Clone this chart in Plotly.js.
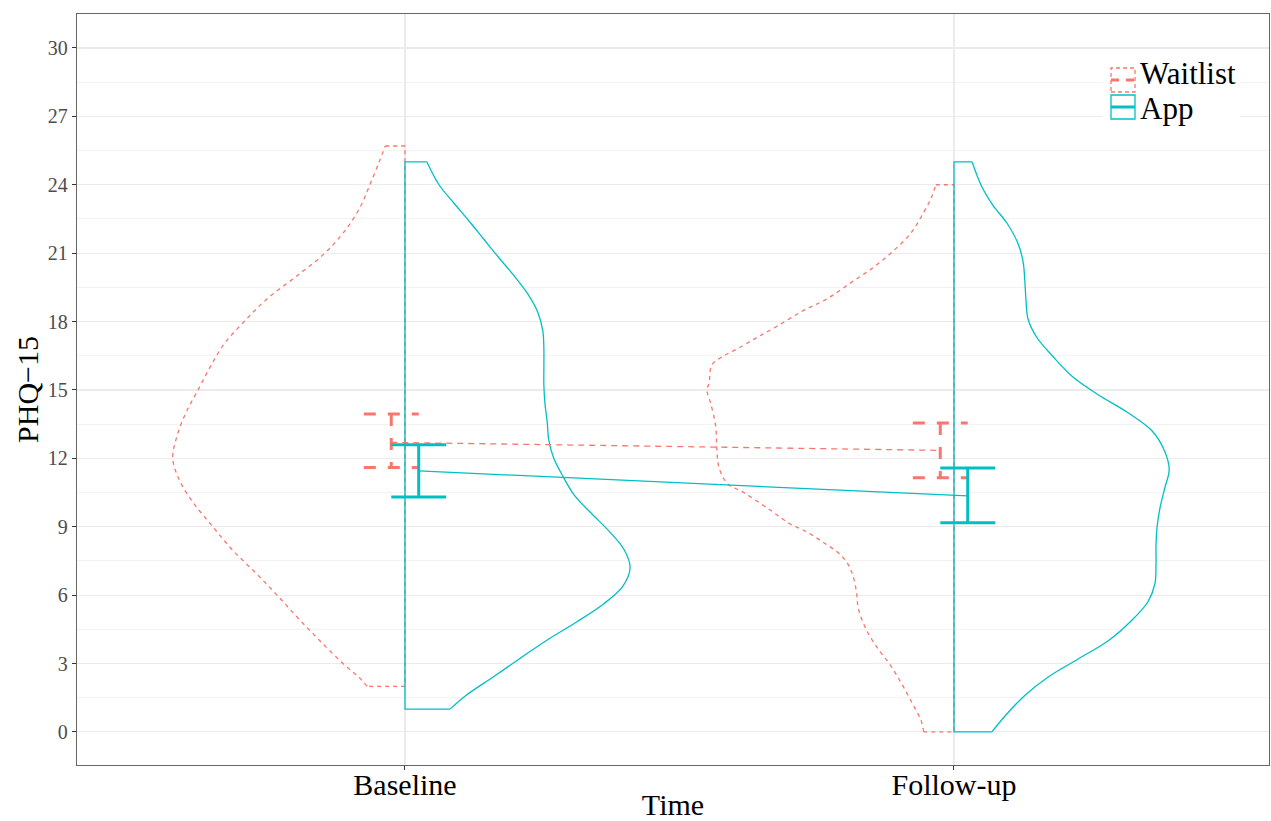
<!DOCTYPE html>
<html><head><meta charset="utf-8">
<script src="https://cdn.plot.ly/plotly-3.0.1.min.js"></script>
<style>html,body{margin:0;padding:0;background:#fff}#chart{width:1271px;height:821px}</style>
</head><body><div id="chart"></div>
<script>
// ---------- data ----------
const timepoints = ["Baseline", "Follow-up"];
const groups = ["Waitlist", "App"];
const yTickVals = [0, 3, 6, 9, 12, 15, 18, 21, 24, 27, 30];
const yTickText = ["0", "3", "6", "9", "12", "15", "18", "21", "24", "27", "30"];

// half-violin density outlines: PHQ-15 score and half-width (x-axis units)
const waitlistBaselineY = [2.0, 2.4, 3, 4, 5, 6, 7, 8, 9, 10, 11, 12, 13, 14, 15, 16, 17, 18, 19, 20, 21, 22, 23, 24, 25, 25.7];
const waitlistBaselineW = [0.069, 0.084, 0.113, 0.155, 0.195, 0.233, 0.273, 0.315, 0.350, 0.384, 0.410, 0.423, 0.415, 0.399, 0.377, 0.355, 0.330, 0.293, 0.251, 0.197, 0.146, 0.109, 0.082, 0.064, 0.047, 0.036];

const appBaselineY = [1.0, 1.6, 2.4, 3.2, 4.0, 4.8, 5.6, 6.4, 7.2, 8.0, 8.8, 9.6, 10.4, 11.2, 12.0, 12.8, 13.6, 14.4, 15.2, 16.0, 16.8, 17.6, 18.4, 19.2, 20.0, 20.8, 21.6, 22.4, 23.2, 24.0, 25.0];
const appBaselineW = [0.082, 0.111, 0.160, 0.208, 0.257, 0.311, 0.361, 0.397, 0.410, 0.399, 0.372, 0.339, 0.308, 0.288, 0.271, 0.262, 0.259, 0.255, 0.253, 0.253, 0.253, 0.251, 0.242, 0.224, 0.199, 0.171, 0.144, 0.117, 0.089, 0.062, 0.040];

const waitlistFollowY = [0, 0.5, 1.3, 2.1, 2.9, 3.7, 4.5, 5.4, 6.2, 7.0, 7.5, 7.9, 8.3, 8.8, 9.1, 9.7, 10.5, 10.9, 11.6, 12.4, 13.4, 14.4, 15.0, 15.3, 16.1, 16.5, 16.8, 17.3, 17.8, 18.5, 19.0, 19.7, 20.3, 21.0, 21.9, 22.8, 23.4, 24.0];
const waitlistFollowW = [0.055, 0.060, 0.077, 0.095, 0.115, 0.140, 0.160, 0.174, 0.178, 0.186, 0.197, 0.213, 0.237, 0.270, 0.297, 0.333, 0.383, 0.413, 0.428, 0.432, 0.434, 0.443, 0.450, 0.446, 0.441, 0.419, 0.395, 0.359, 0.322, 0.273, 0.231, 0.188, 0.151, 0.115, 0.078, 0.055, 0.042, 0.033];

const appFollowY = [0, 0.7, 1.6, 2.4, 3.2, 4.0, 4.9, 5.7, 6.5, 7.4, 8.2, 9.0, 9.8, 10.7, 11.5, 12.3, 13.2, 14.0, 14.8, 15.6, 16.5, 17.3, 18.1, 19.0, 19.8, 20.6, 21.4, 22.3, 23.1, 23.9, 25.0];
const appFollowW = [0.069, 0.093, 0.129, 0.171, 0.226, 0.281, 0.324, 0.353, 0.366, 0.368, 0.368, 0.370, 0.375, 0.384, 0.392, 0.384, 0.361, 0.317, 0.262, 0.215, 0.179, 0.151, 0.135, 0.131, 0.129, 0.126, 0.117, 0.097, 0.071, 0.051, 0.033];

// means with confidence intervals per timepoint
const waitlistMean = [12.7, 12.35];
const waitlistLow  = [11.6, 11.15];
const waitlistHigh = [13.95, 13.55];
const appMean = [11.45, 10.35];
const appLow  = [10.3, 9.17];
const appHigh = [12.6, 11.58];

// ---------- styles ----------
const RED = "#F8766D", TEAL = "#00BFC4";
const FONT = "Liberation Serif, 'Times New Roman', Times, serif";
const DODGE = 0.025, CAP = 0.05;

function halfViolin(cx, side, ys, ws) {
  const n = ys.length;
  const curve = {x: ws.map(w => cx + side * w), y: ys.slice()};
  const close = {
    x: [cx + side * ws[n - 1], cx, cx, cx + side * ws[0]],
    y: [ys[n - 1], ys[n - 1], ys[0], ys[0]]
  };
  return {curve, close};
}
function errBars(off, lo, hi) {
  const x = [], y = [];
  for (let i = 0; i < lo.length; i++) {
    const c = i + 1 + off;
    x.push(c - CAP, c + CAP, null, c, c, null, c - CAP, c + CAP, null);
    y.push(hi[i], hi[i], null, hi[i], lo[i], null, lo[i], lo[i], null);
  }
  return {x, y};
}

const traces = [];
const common = {type: "scatter", mode: "lines", showlegend: false, hoverinfo: "skip"};
const violins = [
  [halfViolin(1, -1, waitlistBaselineY, waitlistBaselineW), RED, "4px,4px"],
  [halfViolin(2, -1, waitlistFollowY, waitlistFollowW), RED, "4px,4px"],
  [halfViolin(1, 1, appBaselineY, appBaselineW), TEAL, "solid"],
  [halfViolin(2, 1, appFollowY, appFollowW), TEAL, "solid"]
];
violins.forEach(([v, col, dash]) => {
  traces.push(Object.assign({}, common, {x: v.curve.x, y: v.curve.y, line: {color: col, width: 1.3, dash, shape: "spline", smoothing: 1}}));
  traces.push(Object.assign({}, common, {x: v.close.x, y: v.close.y, line: {color: col, width: 1.3, dash}}));
});

// mean lines
traces.push(Object.assign({}, common, {x: timepoints.map((t, i) => i + 1 - DODGE), y: waitlistMean, line: {color: RED, width: 1.3, dash: "6px,5px"}}));
traces.push(Object.assign({}, common, {x: timepoints.map((t, i) => i + 1 + DODGE), y: appMean, line: {color: TEAL, width: 1.3}}));

// error bars
const eW = errBars(-DODGE, waitlistLow, waitlistHigh);
const eA = errBars(DODGE, appLow, appHigh);
traces.push(Object.assign({}, common, {x: eW.x, y: eW.y, line: {color: RED, width: 3, dash: "12px,12px"}, connectgaps: false}));
traces.push(Object.assign({}, common, {x: eA.x, y: eA.y, line: {color: TEAL, width: 3}, connectgaps: false}));

// legend (drawn manually, ggplot-style keys)
const L = 77, R = 1269, T = 14, B = 765;
const px = v => (v - L) / (R - L), py = v => (B - v) / (B - T);
const shapes = [
  {type: "rect", xref: "paper", yref: "paper", x0: px(1102), x1: px(1240), y0: py(122), y1: py(57), fillcolor: "#fff", line: {width: 0}, layer: "above"},
  {type: "rect", xref: "paper", yref: "paper", x0: px(1111), x1: px(1135), y0: py(92), y1: py(68), line: {color: RED, width: 1.3, dash: "4px,3px"}, layer: "above"},
  {type: "line", xref: "paper", yref: "paper", x0: px(1111), x1: px(1135), y0: py(80), y1: py(80), line: {color: RED, width: 3, dash: "8px,7px"}, layer: "above"},
  {type: "rect", xref: "paper", yref: "paper", x0: px(1111), x1: px(1135), y0: py(119), y1: py(95), line: {color: TEAL, width: 1.3}, layer: "above"},
  {type: "line", xref: "paper", yref: "paper", x0: px(1111), x1: px(1135), y0: py(107), y1: py(107), line: {color: TEAL, width: 3}, layer: "above"}
];
const annotations = groups.map((g, i) => ({
  xref: "paper", yref: "paper", x: px(1138), y: py(i === 0 ? 73 : 108), xanchor: "left", yanchor: "middle",
  text: g, showarrow: false, font: {family: FONT, size: 31, color: "#000"}
}));

const layout = {
  width: 1271, height: 821,
  margin: {l: L, r: 1271 - R, t: T, b: 821 - B},
  paper_bgcolor: "#fff", plot_bgcolor: "#fff",
  showlegend: false, hovermode: false,
  font: {family: FONT},
  xaxis: {
    range: [0.4026, 2.5738], tickmode: "array", tickvals: timepoints.map((t, i) => i + 1), ticktext: timepoints,
    showgrid: true, gridcolor: "#EBEBEB", gridwidth: 1.1, zeroline: false,
    ticks: "outside", ticklen: 4, tickwidth: 1, tickcolor: "#333",
    ticklabelstandoff: -11,
    tickfont: {family: FONT, size: 30, color: "#000"},
    showline: true, mirror: true, linecolor: "#666", linewidth: 1.2,
    title: {text: "Time", font: {family: FONT, size: 30, color: "#000"}, standoff: 20}
  },
  yaxis: {
    range: [-1.45, 31.49], tickmode: "array", tickvals: yTickVals, ticktext: yTickText,
    showgrid: true, gridcolor: "#EBEBEB", gridwidth: 1.1, zeroline: false,
    minor: {dtick: 1.5, tick0: 0, showgrid: true, gridcolor: "#F0F0F0", gridwidth: 0.8, ticks: ""},
    ticks: "outside", ticklen: 4, tickwidth: 1, tickcolor: "#333",
    tickfont: {family: FONT, size: 20, color: "#4D4D4D"},
    showline: true, mirror: true, linecolor: "#666", linewidth: 1.2,
    title: {text: "PHQ−15", font: {family: FONT, size: 30, color: "#000"}, standoff: 0}
  },
  shapes, annotations
};
Plotly.newPlot("chart", traces, layout, {displayModeBar: false, staticPlot: true});
</script></body></html>
